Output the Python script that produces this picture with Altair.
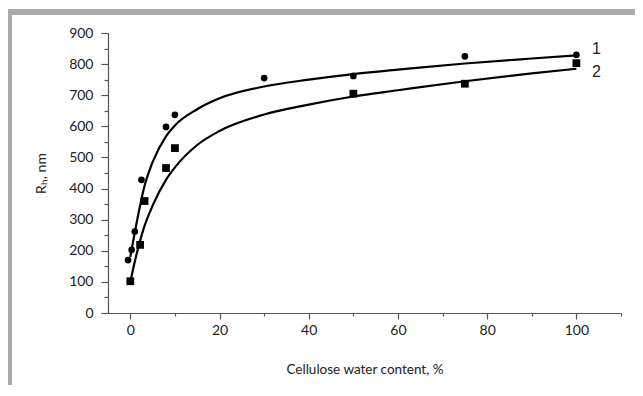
import altair as alt
import pandas as pd

# measured points
s1_x = [-0.5, 0.3, 1, 2.5, 8, 10, 30, 50, 75, 100]
s1_y = [170, 203, 262, 428, 598, 637, 755, 762, 825, 830]
s2_x = [0, 2.2, 3.2, 8, 10, 50, 75, 100]
s2_y = [102, 219, 360, 466, 530, 705, 737, 803]

# fitted curves
c1_x = [0, 0.5, 1, 2, 3, 5, 8, 10, 15, 20, 30, 40, 50, 60, 75, 90, 100]
c1_y = [180, 220, 258, 332, 398, 485, 568, 603, 655, 690, 728, 750, 768, 782, 802, 818, 828]
c2_x = [0, 1, 2, 3, 5, 8, 10, 15, 20, 30, 40, 50, 60, 75, 90, 100]
c2_y = [100, 165, 222, 272, 345, 428, 468, 540, 585, 638, 670, 696, 716, 745, 770, 785]

lab_x = [103.5, 103.5]
lab_y = [848, 775]
lab_t = ["1", "2"]

pts1 = pd.DataFrame({"x": s1_x, "y": s1_y})
pts2 = pd.DataFrame({"x": s2_x, "y": s2_y})
cur1 = pd.DataFrame({"x": c1_x, "y": c1_y})
cur2 = pd.DataFrame({"x": c2_x, "y": c2_y})
labs = pd.DataFrame({"x": lab_x, "y": lab_y, "t": lab_t})

W, H = 513, 280
FONT = "Lato"

xscale = alt.Scale(domain=[-5, 110], nice=False, zero=False)
yscale = alt.Scale(domain=[0, 900], nice=False)

xaxis = alt.Axis(
    values=[0, 10, 20, 30, 40, 50, 60, 70, 80, 90, 100, 110],
    labelExpr="(datum.value % 20 == 0 && datum.value <= 100) ? datum.label : ''",
    tickSize={"condition": {"test": "datum.value % 20 == 0 && datum.value <= 100", "value": 6}, "value": 3},
    grid=False, title="Cellulose water content, %", titlePadding=25,
    labelPadding=4,
)
yaxis = alt.Axis(
    values=list(range(0, 901, 50)),
    labelExpr="datum.value % 100 == 0 ? datum.label : ''",
    tickSize={"condition": {"test": "datum.value % 100 == 0", "value": 7}, "value": 4},
    grid=False, title="Rₕ, nm", titlePadding=20, labelPadding=8, titleFontSize=14,
)

X = alt.X("x:Q", scale=xscale, axis=xaxis)
Y = alt.Y("y:Q", scale=yscale, axis=yaxis)

line1 = alt.Chart(cur1).mark_line(color="black", strokeWidth=2.2, interpolate="monotone").encode(x=X, y=Y)
line2 = alt.Chart(cur2).mark_line(color="black", strokeWidth=2.2, interpolate="monotone").encode(x=X, y=Y)
p1 = alt.Chart(pts1).mark_point(shape="circle", filled=True, color="black", size=45, opacity=1).encode(x=X, y=Y)
p2 = alt.Chart(pts2).mark_point(shape="square", filled=True, color="black", size=60, opacity=1).encode(x=X, y=Y)
txt = alt.Chart(labs).mark_text(font="Liberation Sans", fontSize=16, align="left", color="#222").encode(
    x=X, y=Y, text="t:N")

frame_top = alt.Chart(pts1).mark_rule(color="#a9abae", strokeWidth=6).encode(
    x=alt.value(-100), x2=alt.value(W + 20), y=alt.value(-21))
frame_left = alt.Chart(pts1).mark_rule(color="#a9abae", strokeWidth=5).encode(
    x=alt.value(-98.5), y=alt.value(-24), y2=alt.value(H + 80))

chart = alt.layer(frame_top, frame_left, line1, line2, p1, p2, txt).properties(
    width=W, height=H,
    autosize=alt.AutoSizeParams(type="none"),
    padding={"left": 100, "top": 25, "right": 14, "bottom": 72},
).configure_view(stroke=None).configure_axis(
    domainColor="#555", tickColor="#555", domainWidth=1.2, tickWidth=1.2,
    labelFont=FONT, labelFontSize=14, labelColor="#222",
    titleFont=FONT, titleFontSize=13.5, titleColor="#222", titleFontWeight="normal",
)

chart.save("out.html", embed_options={"renderer": "svg", "actions": False})
